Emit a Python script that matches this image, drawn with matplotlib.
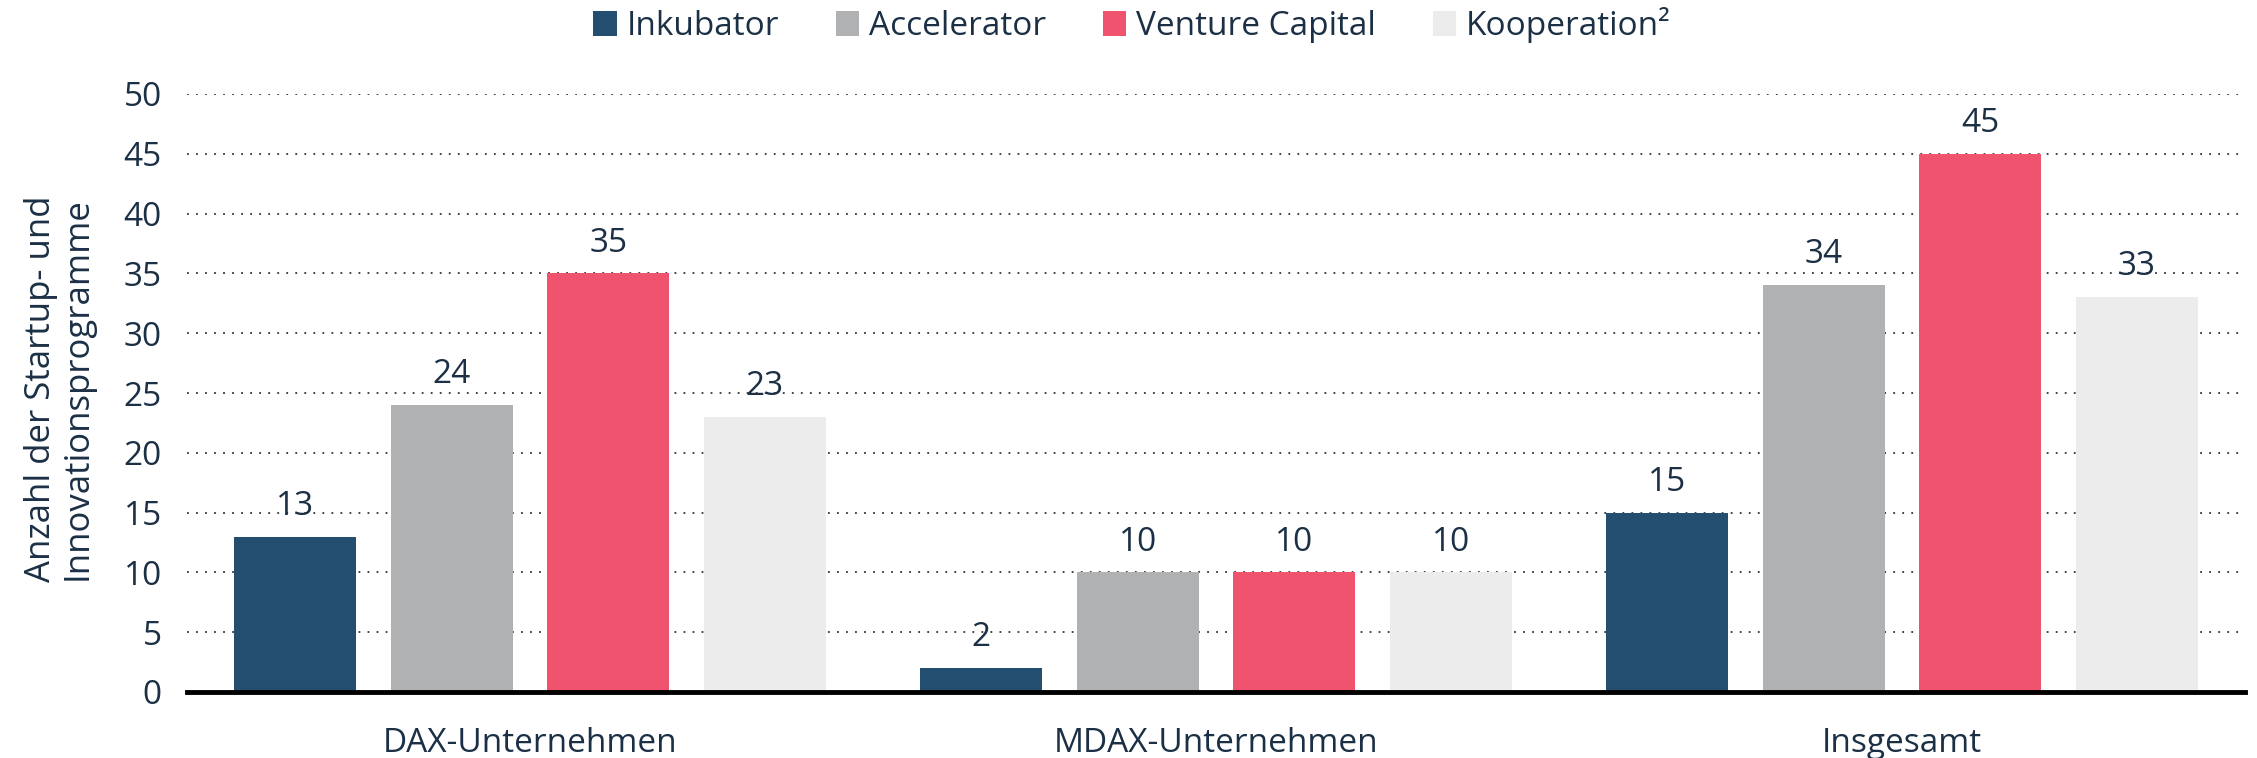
import matplotlib.pyplot as plt
import numpy as np

plt.rcParams['font.family'] = ['Open Sans', 'DejaVu Sans']

# data
categories = ['DAX-Unternehmen', 'MDAX-Unternehmen', 'Insgesamt']
series = ['Inkubator', 'Accelerator', 'Venture Capital', 'Kooperation²']
inkubator = [13, 2, 15]
accelerator = [24, 10, 34]
venture_capital = [35, 10, 45]
kooperation = [23, 10, 33]
values = [inkubator, accelerator, venture_capital, kooperation]
colors = ['#244e6f', '#b0b1b3', '#f0536e', '#ececec']
text_col = '#1b2f45'

fig = plt.figure(figsize=(22.57, 7.58), dpi=100)
ax = fig.add_axes([187 / 2257, 1 - 692 / 758, (2245 - 187) / 2257, (692 - 94) / 758])

x = np.arange(len(categories))
pitch = 0.228
width = 0.178
for i, (name, vals) in enumerate(zip(series, values)):
    pos = x + (i - 1.5) * pitch
    bars = ax.bar(pos, vals, width, color=colors[i], label=name, zorder=3)
    for b, v in zip(bars, vals):
        ax.annotate(str(v), (b.get_x() + b.get_width() / 2, v),
                    xytext=(0, 10), textcoords='offset points',
                    ha='center', va='bottom', fontsize=24, color=text_col, zorder=4)

ax.set_xlim(-0.5, 2.5)
ax.set_ylim(0, 50)
ax.set_yticks(range(0, 51, 5))
ax.set_xticks(x)
ax.set_xticklabels(categories)
ax.tick_params(axis='both', length=0, labelsize=24, colors=text_col)
ax.tick_params(axis='x', pad=25)
ax.tick_params(axis='y', pad=18)
ax.yaxis.grid(True, linestyle=(0, (1, 4)), color='#333333', linewidth=1.3, zorder=0)
for s in ['top', 'right', 'left']:
    ax.spines[s].set_visible(False)
ax.spines['bottom'].set_linewidth(3.5)
ax.spines['bottom'].set_color('black')
ax.spines['bottom'].set_zorder(5)

fig.text(59 / 2257, 1 - 389 / 758, 'Anzahl der Startup- und\nInnovationsprogramme',
         rotation=90, ha='center', va='center', fontsize=25, color=text_col,
         linespacing=1.1)

fig.legend(*ax.get_legend_handles_labels(), loc='center',
           bbox_to_anchor=(1132 / 2257, 1 - 25 / 758), ncol=4, frameon=False,
           fontsize=24, handlelength=0.7, handleheight=0.75, handletextpad=0.3,
           columnspacing=1.7, labelcolor=text_col, borderpad=0)

plt.savefig('out.png', dpi=100)
